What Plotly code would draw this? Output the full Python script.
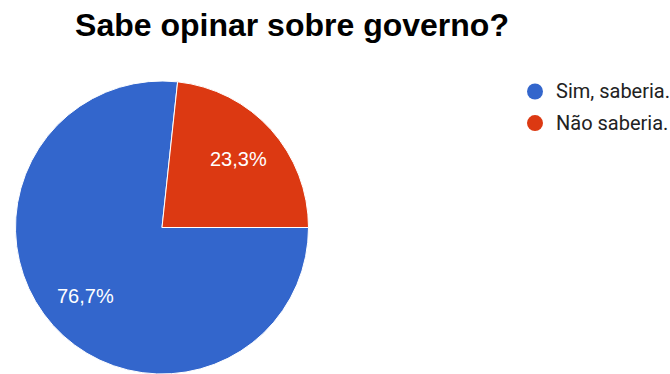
import math
import plotly.graph_objects as go

labels = ["Sim, saberia.", "Não saberia."]
values = [76.7, 23.3]
colors = ["#3366cc", "#dc3912"]
title_text = "Sabe opinar sobre governo?"

W, H = 670, 374
ROTATION = 90
# pie domain in pixels (left, right, top, bottom)
dx0, dx1, dy_top, dy_bot = 14, 310, 81, 374

fig = go.Figure()
fig.add_trace(go.Pie(
    labels=labels,
    values=values,
    marker=dict(colors=colors, line=dict(color="white", width=1)),
    sort=False,
    direction="clockwise",
    rotation=ROTATION,
    textinfo="none",
    showlegend=False,
    hoverinfo="label+percent",
    domain=dict(x=[dx0 / W, dx1 / W], y=[1 - dy_bot / H, 1 - dy_top / H]),
))

# percentage labels positioned at each slice's mid-angle
cx = (dx0 + dx1) / 2
cy = (dy_top + dy_bot) / 2
R = min(dx1 - dx0, dy_bot - dy_top) / 2
total = sum(values)
acc = 0.0
for v in values:
    mid = ROTATION + (acc + v / 2) / total * 360
    acc += v
    r = 0.70 * R
    px = cx + r * math.sin(math.radians(mid))
    py = cy - r * math.cos(math.radians(mid))
    pct = f"{v / total * 100:.1f}".replace(".", ",") + "%"
    fig.add_annotation(
        x=px / W, y=1 - py / H, xref="paper", yref="paper",
        text=pct, showarrow=False, xanchor="center", yanchor="middle",
        font=dict(color="white", size=20, family="Arial, Liberation Sans"),
    )

# legend (circle swatch + label), drawn manually for exact placement
LEG_X, LEG_Y0, LEG_DY, SW_R = 535, 91.5, 31.6, 8
for i, (lab, col) in enumerate(zip(labels, colors)):
    yc = LEG_Y0 + i * LEG_DY
    fig.add_shape(
        type="circle", xref="paper", yref="paper",
        x0=(LEG_X - SW_R) / W, x1=(LEG_X + SW_R) / W,
        y0=1 - (yc + SW_R) / H, y1=1 - (yc - SW_R) / H,
        fillcolor=col, line=dict(width=0),
    )
    fig.add_annotation(
        x=(LEG_X + 19) / W, y=1 - yc / H, xref="paper", yref="paper",
        text=lab, showarrow=False, xanchor="left", yanchor="middle",
        font=dict(family="Roboto, Arial", size=20, color="#222222"),
    )

fig.update_layout(
    width=W, height=H,
    margin=dict(l=0, r=0, t=0, b=0),
    paper_bgcolor="white",
    plot_bgcolor="white",
    showlegend=False,
    title=dict(
        text="<b>" + title_text + "</b>",
        x=292 / W, xanchor="center",
        y=1 - 25 / H, yanchor="middle", yref="container",
        font=dict(family="Arial, Liberation Sans", size=32, color="#000000"),
    ),
)

fig.write_html("out.html")
